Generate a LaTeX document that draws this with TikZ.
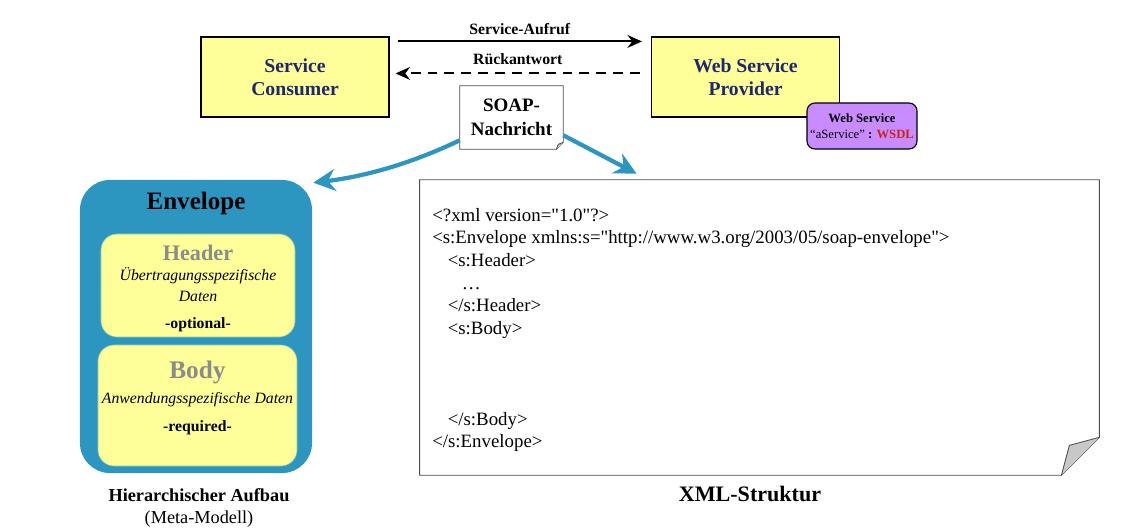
\documentclass[tikz,border=0pt]{standalone}
\usepackage{fontspec}
\setmainfont{Liberation Serif}
\newfontfamily\xmlfont{Liberation Serif}
\usetikzlibrary{positioning}
\usetikzlibrary{calc}
\usetikzlibrary{arrows.meta}
\definecolor{boxyellow}{RGB}{255,255,153}
\definecolor{navytext}{RGB}{30,40,110}
\definecolor{envblue}{RGB}{44,150,192}
\definecolor{wsdlpurple}{RGB}{200,140,255}
\definecolor{wsdlred}{RGB}{200,35,25}
\definecolor{foldgray}{RGB}{200,200,200}
\definecolor{titlegray}{RGB}{140,140,140}
\tikzset{
    actor/.style = {rectangle, thick, draw=black, fill=boxyellow, minimum width=4.7cm, minimum height=2cm, align=center, text=navytext, font=\bfseries\fontsize{14}{16.5}\selectfont},
    wsdlbox/.style = {rectangle, rounded corners=0.2cm, thick, draw=black, fill=wsdlpurple, minimum width=2.75cm, minimum height=1.15cm, align=center, inner sep=1pt, font=\bfseries\fontsize{9}{11.5}\selectfont},
    msgnote/.style = {rectangle, fill=white, minimum width=2.575cm, minimum height=1.575cm, align=center, font=\bfseries\fontsize{13.5}{17}\selectfont},
    noteline/.style = {draw=black!70, line width=0.6pt, line join=round},
    envbox/.style = {rectangle, rounded corners=0.75cm, fill=envblue, minimum width=5.8cm, minimum height=7.325cm},
    partbox/.style = {rectangle, rounded corners=0.4cm, fill=boxyellow, draw=envblue!60!boxyellow, line width=0.4pt},
    parttext/.style = {align=center, inner sep=0pt, font=\fontsize{11.2}{14.5}\selectfont},
    caption/.style = {align=center, font=\fontsize{13}{15.6}\selectfont},
    msglabel/.style = {font=\bfseries\fontsize{11.2}{12}\selectfont, inner sep=1pt},
    callarrow/.style = {-{Stealth[length=3.6mm,width=3.2mm]}, line width=1.5pt},
    replyarrow/.style = {-{Stealth[length=3.6mm,width=3.2mm]}, line width=1.5pt, dash pattern=on 7pt off 5pt},
    soaparrow/.style = {-{Stealth[length=5.5mm,width=5.5mm,inset=1.8mm]}, line width=3pt, draw=envblue}
}

\begin{document}
\begin{tikzpicture}[x=0.025cm, y=-0.025cm]
  \useasboundingbox (0,0) rectangle (1125,531);

  % partners
  \node[actor] (consumer) at (295,77) {Service\\Consumer};
  \node[actor] (provider) at (745.5,77) {Web Service\\Provider};
  \node[wsdlbox] (wsdl) at (862,126) {Web Service\\{\mdseries “aService”} : \textcolor{wsdlred}{WSDL}};

  \draw[callarrow] ([xshift=0.2cm,yshift=-0.125cm]consumer.north east) -- ([xshift=-0.225cm,yshift=-0.125cm]provider.north west)
    node[msglabel, midway, above=3pt] (calllbl) {Service-Aufruf};
  \draw[replyarrow] ([xshift=-0.275cm,yshift=-0.925cm]provider.north west) -- ([xshift=0.15cm,yshift=-0.925cm]consumer.north east)
    node[msglabel, midway, above=4.5pt] (replylbl) {Rückantwort};

  % message
  \node[msgnote] (msg) at (511.5,117.5) {SOAP-\\Nachricht};
  \draw[noteline] (msg.north west) -- (msg.north east) -- ($(msg.south east)+(0,-7)$)
    -- ($(msg.south east)+(-7,0)$) -- (msg.south west) -- cycle;
  \draw[noteline, fill=foldgray] ($(msg.south east)+(-7,0)$) -- ($(msg.south east)+(-5,-5)$) -- ($(msg.south east)+(0,-7)$);

  % meta model
  \node[envbox] (env) at (196,326.5) {};
  \node[font=\bfseries\fontsize{17.8}{20}\selectfont] (envlbl) at (196,203) {Envelope};
  \node[partbox, minimum width=4.85cm, minimum height=2.575cm] (header) at (198,285.5) {};
  \node[parttext, anchor=north] (headertxt) at ([yshift=-0.275cm]header.north)
    {{\bfseries\color{titlegray}\fontsize{15.8}{17}\selectfont Header}\\
     \itshape Übertragungsspezifische\\ \itshape Daten\\[5pt] \bfseries -optional-};
  \node[partbox, minimum width=4.975cm, minimum height=3.025cm] (body) at (197.5,405.5) {};
  \node[parttext, anchor=north] (bodytxt) at ([yshift=-0.4cm]body.north)
    {{\bfseries\color{titlegray}\fontsize{18}{20}\selectfont Body}\\[3pt]
     \itshape Anwendungsspezifische Daten\\[6pt] \bfseries -required-};
  \node[caption] (metalbl) at (199,508) {\bfseries Hierarchischer Aufbau\\(Meta-Modell)};

  % xml document
  \node[minimum width=16.975cm, minimum height=7.375cm] (xml) at (759.5,327.5) {};
  \draw[noteline] (xml.north west) -- (xml.north east) -- ($(xml.south east)+(0,-38)$)
    -- ($(xml.south east)+(-38,0)$) -- (xml.south west) -- cycle;
  \draw[noteline, fill=foldgray] ($(xml.south east)+(-38,0)$) -- ($(xml.south east)+(-30,-30)$) -- ($(xml.south east)+(0,-38)$);
  \node[anchor=north west, align=left, inner sep=0pt, font=\xmlfont\fontsize{13.4}{16.1}\selectfont] (xmltxt) at (432,208)
    {<?xml version="1.0"?>\\
     <s:Envelope xmlns:s="http://www.w3.org/2003/05/soap-envelope">\\
     \hspace*{11pt}<s:Header>\\
     \hspace*{21pt}…\\
     \hspace*{11pt}</s:Header>\\
     \hspace*{11pt}<s:Body>\\
     \\ \\ \\
     \hspace*{11pt}</s:Body>\\
     </s:Envelope>};
  \node[font=\bfseries\fontsize{15.7}{18}\selectfont] (xmllbl) at (750,494) {XML-Struktur};

  % soap arrows
  \coordinate (xmlin) at ($(xml.north west)+(217,-6)$);
  \draw[soaparrow] ($(msg.south west)+(0,-9)$) .. controls +(-50,24) and +(50,-6) .. ($(env.north east)+(1,3)$);
  \draw[soaparrow] ($(msg.south east)+(0,-14)$) -- (xmlin);

\end{tikzpicture}
\end{document}
